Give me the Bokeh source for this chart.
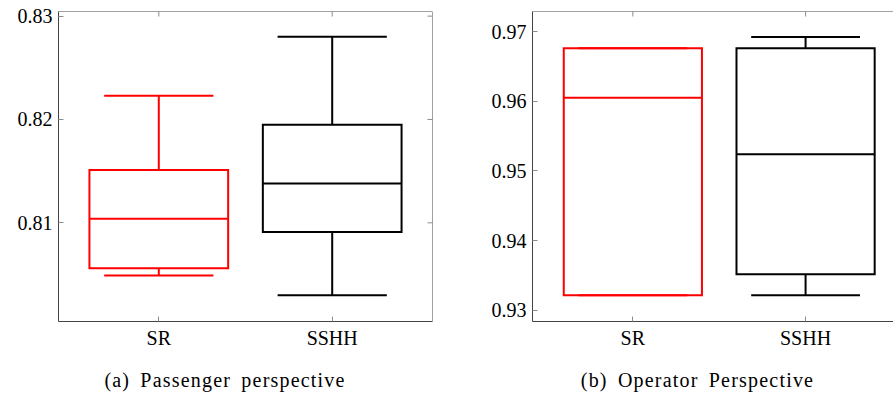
from bokeh.plotting import figure
from bokeh.layouts import row, column
from bokeh.models import LinearAxis, FixedTicker, Range1d, Span, Div
from bokeh.embed import file_html
from bokeh.resources import INLINE

# Box-plot statistics per method (lower whisker, Q1, median, Q3, upper whisker)
methods = ["SR", "SSHH"]
method_colors = ["#ff0000", "#000000"]

passenger_lower = [0.8049, 0.8030]
passenger_q1 = [0.8056, 0.8091]
passenger_median = [0.8104, 0.8138]
passenger_q3 = [0.8151, 0.8195]
passenger_upper = [0.8223, 0.8280]
passenger_ticks = [0.81, 0.82, 0.83]
passenger_tick_labels = ["0.81", "0.82", "0.83"]

operator_lower = [0.9322, 0.9322]
operator_q1 = [0.9322, 0.9352]
operator_median = [0.9605, 0.9524]
operator_q3 = [0.9676, 0.9676]
operator_upper = [0.9676, 0.9692]
operator_ticks = [0.93, 0.94, 0.95, 0.96, 0.97]
operator_tick_labels = ["0.93", "0.94", "0.95", "0.96", "0.97"]

captions = ["(a) Passenger perspective", "(b) Operator Perspective"]

FONT = "'Liberation Serif', 'DejaVu Serif', serif"
TICK_SIZE = "20px"
FRAME_COLOR = "#444444"
TICK_COLOR = "#8c8c8c"
BOX_WIDTH = 0.8
CAP_WIDTH = 0.63
TICK_LEN = 5      # px, ticks drawn inside the frame
FRAME_H = 310     # px
FIG_H = 360


def style_axis(ax):
    ax.axis_line_color = FRAME_COLOR
    ax.axis_line_width = 1
    ax.major_tick_line_color = TICK_COLOR
    ax.major_tick_in = TICK_LEN
    ax.major_tick_out = 0
    ax.minor_tick_line_color = None
    ax.major_label_text_font = FONT
    ax.major_label_text_font_size = TICK_SIZE
    ax.major_label_text_color = "black"
    ax.major_label_standoff = 6


def box_panel(width, border_left, border_right, x_range, y_range,
              lower, q1, med, q3, upper, yticks, ytick_labels,
              mirror_right=True):
    frame_w = width - border_left - border_right
    p = figure(width=width, height=FIG_H, output_backend="svg",
               toolbar_location=None, x_range=Range1d(*x_range),
               y_range=Range1d(*y_range),
               min_border_left=border_left, min_border_right=border_right,
               min_border_top=11, min_border_bottom=FIG_H - 11 - FRAME_H,
               x_axis_type=None, y_axis_type=None)
    p.outline_line_color = None
    p.grid.visible = False
    p.background_fill_color = "white"
    p.border_fill_color = "white"

    xpos = [i + 1 for i in range(len(methods))]

    xb = LinearAxis(ticker=FixedTicker(ticks=xpos))
    style_axis(xb)
    xb.major_label_standoff = 5
    xb.major_label_overrides = {x: m for x, m in zip(xpos, methods)}
    p.add_layout(xb, "below")

    yl = LinearAxis(ticker=FixedTicker(ticks=yticks))
    style_axis(yl)
    yl.major_label_overrides = {v: s for v, s in zip(yticks, ytick_labels)}
    p.add_layout(yl, "left")

    # top (and right) frame edges with mirrored inward ticks
    x0, x1 = x_range
    y0, y1 = y_range
    p.add_layout(Span(location=y1, dimension="width",
                      line_color=FRAME_COLOR, line_width=1))
    dy = TICK_LEN * (y1 - y0) / FRAME_H
    p.segment(x0=xpos, y0=[y1] * len(xpos), x1=xpos, y1=[y1 - dy] * len(xpos),
              line_color=TICK_COLOR, line_width=1)
    if mirror_right:
        p.add_layout(Span(location=x1, dimension="height",
                          line_color=FRAME_COLOR, line_width=1))
        dx = TICK_LEN * (x1 - x0) / frame_w
        p.segment(x0=[x1] * len(yticks), y0=yticks, x1=[x1 - dx] * len(yticks),
                  y1=yticks, line_color=TICK_COLOR, line_width=1)

    half = BOX_WIDTH / 2
    cap = CAP_WIDTH / 2
    lw = 2
    # whiskers
    p.segment(x0=xpos, y0=q3, x1=xpos, y1=upper, line_color=method_colors, line_width=lw)
    p.segment(x0=xpos, y0=q1, x1=xpos, y1=lower, line_color=method_colors, line_width=lw)
    # whisker caps
    p.segment(x0=[x - cap for x in xpos], y0=upper, x1=[x + cap for x in xpos], y1=upper,
              line_color=method_colors, line_width=lw)
    p.segment(x0=[x - cap for x in xpos], y0=lower, x1=[x + cap for x in xpos], y1=lower,
              line_color=method_colors, line_width=lw)
    # boxes
    p.quad(left=[x - half for x in xpos], right=[x + half for x in xpos],
           bottom=q1, top=q3, fill_color=None, line_color=method_colors,
           line_width=lw, line_join="miter")
    # medians
    p.segment(x0=[x - half for x in xpos], y0=med, x1=[x + half for x in xpos], y1=med,
              line_color=method_colors, line_width=lw)
    return p


def caption_div(text, width, shift):
    return Div(text=text, width=width, height=393 - FIG_H, margin=(0, 0, 0, 0),
               styles={"font-family": FONT, "font-size": "20px",
                       "letter-spacing": "1.2px", "word-spacing": "4px",
                       "line-height": "20px", "padding-top": "10px",
                       "text-align": "center", "color": "black",
                       "position": "relative", "left": f"{shift}px",
                       "width": f"{width}px", "white-space": "nowrap"})


p1 = box_panel(450, 58, 18, (0.4216, 2.5784), (0.80045, 0.83045),
               passenger_lower, passenger_q1, passenger_median, passenger_q3,
               passenger_upper, passenger_ticks, passenger_tick_labels)

p2 = box_panel(443, 82, 0, (0.419, 2.509), (0.92842, 0.97287),
               operator_lower, operator_q1, operator_median, operator_q3,
               operator_upper, operator_ticks, operator_tick_labels,
               mirror_right=False)

layout = row(column(p1, caption_div(captions[0], 450, 0), spacing=0),
             column(p2, caption_div(captions[1], 443, 26), spacing=0),
             spacing=0)
open("out.html", "w").write(file_html(layout, INLINE))
